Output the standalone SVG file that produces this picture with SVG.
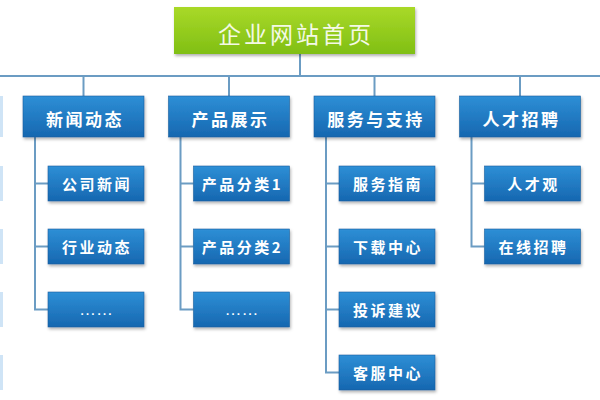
<svg xmlns="http://www.w3.org/2000/svg" width="600" height="400" viewBox="0 0 600 400">
<defs>
<linearGradient id="gGreen" x1="0" y1="0" x2="0" y2="1">
<stop offset="0" stop-color="#a9d928"/>
<stop offset="1" stop-color="#80bf14"/>
</linearGradient>
<linearGradient id="gBlue" x1="0" y1="0" x2="0" y2="1">
<stop offset="0" stop-color="#2e8fd6"/>
<stop offset="1" stop-color="#1667b0"/>
</linearGradient>
<filter id="sh" x="-10%" y="-20%" width="125%" height="150%">
<feDropShadow dx="1" dy="2" stdDeviation="1.5" flood-color="#000" flood-opacity="0.3"/>
</filter>
</defs>
<style>
.bg{fill:#ffffff}
.root rect{fill:url(#gGreen);filter:url(#sh)}
.root text{fill:#f4f9e6;font-family:"Noto Sans CJK SC","Noto Sans",sans-serif;font-size:23px;letter-spacing:3px;text-anchor:middle;dominant-baseline:central}
.n1 rect,.n2 rect{fill:url(#gBlue);stroke:#1a5f9e;stroke-width:0.6;filter:url(#sh)}
.n1 text{fill:#ffffff;font-family:"Noto Sans CJK SC","Noto Sans",sans-serif;font-size:17px;font-weight:bold;letter-spacing:2.5px;text-anchor:middle;dominant-baseline:central}
.n2 text{fill:#ffffff;font-family:"Noto Sans CJK SC","Noto Sans",sans-serif;font-size:15px;font-weight:bold;letter-spacing:2.5px;text-anchor:middle;dominant-baseline:central}
.n2 text.dots{font-family:"Liberation Sans",sans-serif;font-size:17px;font-weight:normal;letter-spacing:0;dominant-baseline:alphabetic}
.stub{fill:#cfe4f6}
#connectors path{fill:none;stroke:#6b9cc3;stroke-width:2}
</style>
<rect class="bg" x="0" y="0" width="600" height="400"/>

<g id="edge-stubs">
<rect class="stub" x="0" y="96" width="3" height="41"/>
<rect class="stub" x="0" y="166" width="3" height="35"/>
<rect class="stub" x="0" y="229" width="3" height="35"/>
<rect class="stub" x="0" y="292" width="3" height="35"/>
<rect class="stub" x="0" y="355" width="3" height="35"/>
</g>

<g id="connectors">
<path d="M300 54 V76"/>
<path d="M0 76 H600"/>
<path d="M83.5 76 V96"/>
<path d="M229 76 V96"/>
<path d="M374.5 76 V96"/>
<path d="M520 76 V96"/>
<path d="M35 137 V309.5 H48"/>
<path d="M35 183.5 H48"/>
<path d="M35 246.5 H48"/>
<path d="M180.5 137 V309.5 H193.5"/>
<path d="M180.5 183.5 H193.5"/>
<path d="M180.5 246.5 H193.5"/>
<path d="M326 137 V372.5 H339"/>
<path d="M326 183.5 H339"/>
<path d="M326 246.5 H339"/>
<path d="M326 309.5 H339"/>
<path d="M471.5 137 V246.5 H484.5"/>
<path d="M471.5 183.5 H484.5"/>
</g>

<g id="root" class="root">
<rect x="174" y="7" width="241" height="47"/>
<text x="296" y="33">企业网站首页</text>
</g>

<g id="news" class="n1"><rect x="23" y="96" width="121" height="41"/><text x="85" y="118">新闻动态</text></g>
<g id="products" class="n1"><rect x="168.5" y="96" width="121" height="41"/><text x="230.5" y="118">产品展示</text></g>
<g id="service" class="n1"><rect x="314" y="96" width="121" height="41"/><text x="376" y="118">服务与支持</text></g>
<g id="jobs" class="n1"><rect x="459.5" y="96" width="121" height="41"/><text x="521.5" y="118">人才招聘</text></g>

<g id="news-company" class="n2"><rect x="48" y="166" width="96" height="35"/><text x="97" y="183.5">公司新闻</text></g>
<g id="news-industry" class="n2"><rect x="48" y="229" width="96" height="35"/><text x="97" y="246.5">行业动态</text></g>
<g id="news-more" class="n2"><rect x="48" y="292" width="96" height="35"/><text class="dots" x="96" y="315">……</text></g>

<g id="prod-cat1" class="n2"><rect x="193.5" y="166" width="96" height="35"/><text x="242.5" y="183.5">产品分类1</text></g>
<g id="prod-cat2" class="n2"><rect x="193.5" y="229" width="96" height="35"/><text x="242.5" y="246.5">产品分类2</text></g>
<g id="prod-more" class="n2"><rect x="193.5" y="292" width="96" height="35"/><text class="dots" x="241.5" y="315">……</text></g>

<g id="svc-guide" class="n2"><rect x="339" y="166" width="96" height="35"/><text x="388" y="183.5">服务指南</text></g>
<g id="svc-download" class="n2"><rect x="339" y="229" width="96" height="35"/><text x="388" y="246.5">下载中心</text></g>
<g id="svc-complaint" class="n2"><rect x="339" y="292" width="96" height="35"/><text x="388" y="309.5">投诉建议</text></g>
<g id="svc-support" class="n2"><rect x="339" y="355" width="96" height="35"/><text x="388" y="372.5">客服中心</text></g>

<g id="jobs-view" class="n2"><rect x="484.5" y="166" width="96" height="35"/><text x="533.5" y="183.5">人才观</text></g>
<g id="jobs-online" class="n2"><rect x="484.5" y="229" width="96" height="35"/><text x="533.5" y="246.5">在线招聘</text></g>
</svg>
